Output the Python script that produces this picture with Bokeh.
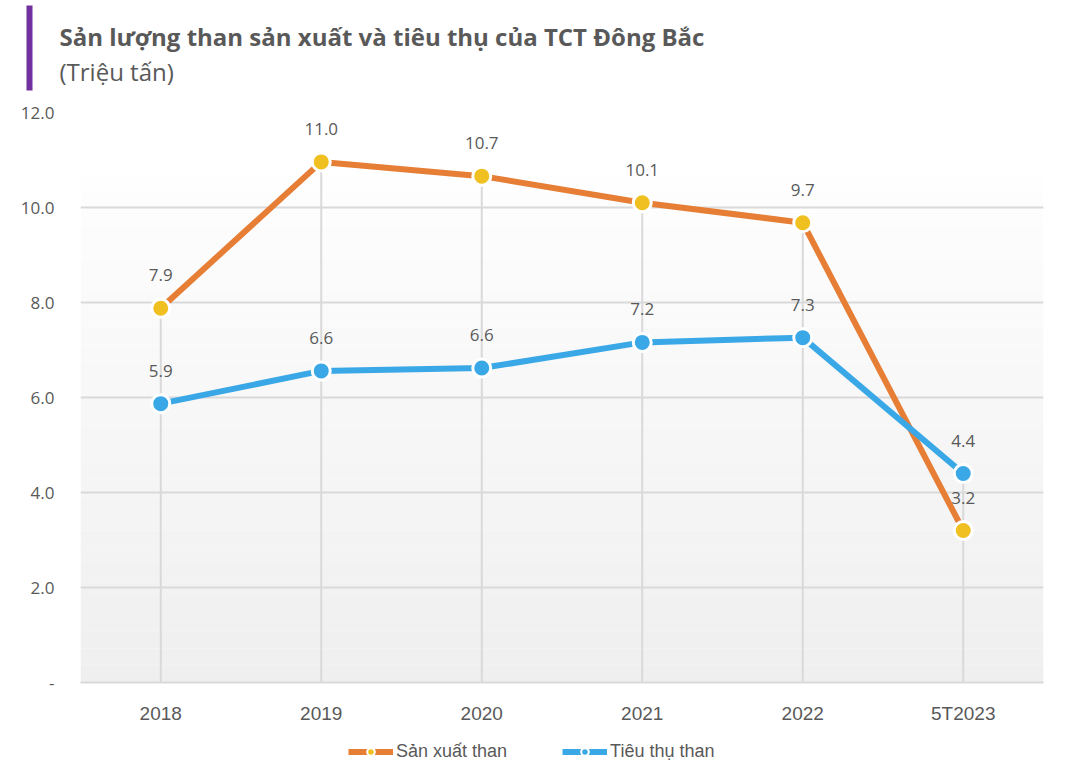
from bokeh.plotting import figure
from bokeh.layouts import column
from bokeh.models import (FixedTicker, BoxAnnotation, Legend, LegendItem,
                          ColumnDataSource)
from bokeh.core.properties import value
from bokeh.embed import file_html
from bokeh.resources import INLINE

categories = ["2018", "2019", "2020", "2021", "2022", "5T2023"]
san_xuat = [7.88, 10.96, 10.66, 10.1, 9.68, 3.2]
tieu_thu = [5.87, 6.56, 6.62, 7.16, 7.26, 4.4]
y_ticks = [0, 2, 4, 6, 8, 10, 12]
y_tick_labels = {0: "-", 2: "2.0", 4: "4.0", 6: "6.0", 8: "8.0", 10: "10.0", 12: "12.0"}
title = "Sản lượng than sản xuất và tiêu thụ của TCT Đông Bắc"
subtitle = "(Triệu tấn)"
series_names = ["Sản xuất than", "Tiêu thụ than"]

FONT = "Open Sans"
AXFONT = "Liberation Sans"
TFONT = "Open Sans"
GRAY = "#595959"
ORANGE = "#e67e35"
BLUE = "#3aa8e6"
GOLD = "#f0c020"
W = 1060


def bare(fig):
    fig.axis.visible = False
    fig.grid.visible = False
    fig.outline_line_color = None
    fig.min_border = 0
    fig.min_border_left = 0
    fig.min_border_right = 0
    fig.min_border_top = 0
    fig.min_border_bottom = 0
    return fig


# ---------- header ----------
hdr = bare(figure(width=W, height=100, x_range=(0, W), y_range=(100, 0),
                  output_backend="svg", toolbar_location=None))
hdr.quad(left=26, right=32, top=5, bottom=90, fill_color="#7030a0", line_color=None)
hdr.text(x=[59], y=[36], text=[title], text_font=value(TFONT), text_font_size="24px",
         text_font_style="bold", text_color=GRAY, text_baseline="middle")
hdr.text(x=[59], y=[71], text=[subtitle], text_font=value(TFONT), text_font_size="24px",
         text_color=GRAY, text_baseline="middle")

# ---------- main chart ----------
p = figure(x_range=categories, y_range=(0, 12), width=W, height=630,
           output_backend="svg", toolbar_location=None,
           min_border_left=80, min_border_right=W - 1043, min_border_top=12,
           min_border_bottom=48)
p.x_range.range_padding = 0
p.outline_line_color = None
p.background_fill_color = "white"

# gradient background
n = 30
top = 10.67
for i in range(n):
    t = i / (n - 1)
    c = int(round(0xef + (0xfe - 0xef) * t))
    p.add_layout(BoxAnnotation(bottom=top * i / n, top=top * (i + 1) / n,
                               fill_color="#%02x%02x%02x" % (c, c, c), fill_alpha=1,
                               line_color=None, level="image"))

p.xgrid.grid_line_color = None
p.ygrid.grid_line_color = "#d9d9d9"
p.ygrid.grid_line_width = 2
p.ygrid.ticker = FixedTicker(ticks=y_ticks)

p.yaxis.ticker = FixedTicker(ticks=y_ticks)
p.yaxis.major_label_overrides = y_tick_labels
p.yaxis.axis_line_color = None
p.yaxis.major_tick_line_color = None
p.yaxis.minor_tick_line_color = None
p.yaxis.major_label_text_font = FONT
p.yaxis.major_label_text_font_size = "17px"
p.yaxis.major_label_text_color = GRAY
p.yaxis.major_label_standoff = 20

p.xaxis.axis_line_color = "#d9d9d9"
p.xaxis.axis_line_width = 2
p.xaxis.major_tick_line_color = None
p.xaxis.minor_tick_line_color = None
p.xaxis.major_label_text_font = AXFONT
p.xaxis.major_label_text_font_size = "19px"
p.xaxis.major_label_text_color = GRAY
p.xaxis.major_label_standoff = 14

src = ColumnDataSource(dict(x=categories, a=san_xuat, b=tieu_thu,
                            zero=[0] * len(categories),
                            hi=[max(u, v) for u, v in zip(san_xuat, tieu_thu)],
                            la=["%.1f" % v for v in san_xuat],
                            lb=["%.1f" % v for v in tieu_thu]))

# drop lines
p.segment(x0="x", y0="zero", x1="x", y1="hi", source=src, line_color="#d9d9d9", line_width=2)

p.line("x", "a", source=src, line_color=ORANGE, line_width=6)
p.line("x", "b", source=src, line_color=BLUE, line_width=6)
p.scatter("x", "a", source=src, size=18, fill_color=GOLD, line_color="white", line_width=3)
p.scatter("x", "b", source=src, size=18, fill_color=BLUE, line_color="white", line_width=3)

for col, ycol in (("la", "a"), ("lb", "b")):
    p.text("x", ycol, text=col, source=src, text_font=value(FONT), text_font_size="17px",
           text_color=GRAY, text_align="center", text_baseline="middle", y_offset=-33)

# ---------- footer legend ----------
ftr = bare(figure(width=W, height=40, x_range=(0, W), y_range=(0, 40),
                  output_backend="svg", toolbar_location=None))
nan = float("nan")
items = []
for name, lc, fc in ((series_names[0], ORANGE, GOLD), (series_names[1], BLUE, BLUE)):
    r1 = ftr.line(x=[0, 1], y=[nan, nan], line_color=lc, line_width=6)
    r2 = ftr.scatter(x=[0], y=[nan], size=10, fill_color=fc, line_color="white", line_width=2)
    items.append(LegendItem(label=name, renderers=[r1, r2]))
legend = Legend(items=items, orientation="horizontal", location=(348, 8),
                label_text_font=AXFONT, label_text_font_size="18px", label_text_color=GRAY,
                glyph_width=45, glyph_height=19, spacing=55, label_standoff=3,
                border_line_color=None, background_fill_alpha=0, margin=0, padding=4)
ftr.add_layout(legend, "center")

layout = column(column(hdr), p, column(ftr), spacing=0)
open("out.html", "w").write(file_html(layout, INLINE))
